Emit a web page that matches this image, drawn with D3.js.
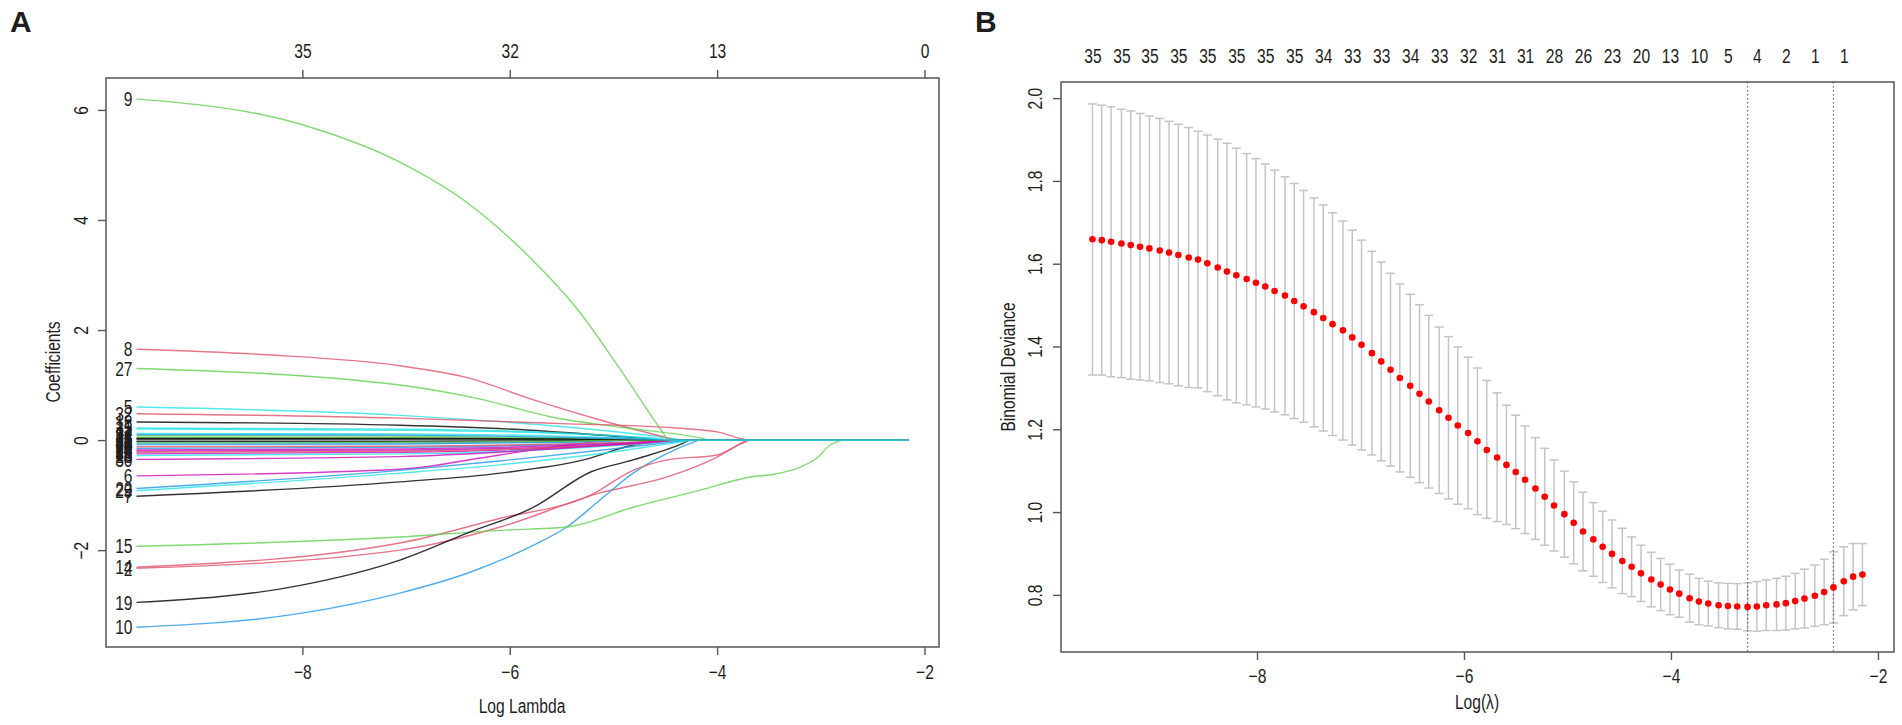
<!DOCTYPE html>
<html>
<head>
<meta charset="utf-8">
<script src="https://cdn.jsdelivr.net/npm/d3@7"></script>
<style>
body { margin: 0; background: #fff; }
text { font-family: "Liberation Sans", Arial, sans-serif; fill: #1e1e1e; }
</style>
</head>
<body>
<script>
//SVG dimension variables
var w = 1902, h = 725;

//---- panel A data: lasso coefficient paths, [log lambda, coefficient] ----
var coefLabels = ["1","2","3","4","5","6","7","8","9","10","11","12","13","14","15","16","17","18",
    "19","20","21","22","23","24","25","26","27","28","29","30","31","32","33","34","35"];

var coefPaths = [
    [[-9.6,0.02],[-7.0,0.02],[-5.5,0.01],[-4.6,0],[-2.15,0]],
    [[-9.6,-2.33],[-7.06,-2.0],[-6.09,-1.58],[-5.13,-0.96],[-4.48,-0.67],[-4.0,-0.31],[-3.75,-0.04],[-3.7,0],[-2.15,0]],
    [[-9.6,0.05],[-7.0,0.045],[-5.5,0.02],[-4.5,0],[-2.15,0]],
    [[-9.6,-0.15],[-7.0,-0.13],[-5.5,-0.08],[-4.5,-0.02],[-4.3,0],[-2.15,0]],
    [[-9.6,0.6],[-7.06,0.45],[-5.12,0.18],[-4.5,0.05],[-4.3,0],[-2.15,0]],
    [[-9.6,-0.65],[-7.06,-0.53],[-6.1,-0.27],[-5.45,-0.09],[-4.9,0],[-2.15,0]],
    [[-9.6,-1.02],[-7.06,-0.76],[-6.09,-0.6],[-5.29,-0.36],[-4.81,-0.09],[-4.33,0],[-2.15,0]],
    [[-9.6,1.65],[-8.34,1.55],[-7.06,1.35],[-6.4,1.13],[-5.77,0.73],[-5.12,0.36],[-4.5,0.05],[-4.4,0],[-2.15,0]],
    [[-9.6,6.2],[-8,5.73],[-7.06,5.05],[-6.4,4.3],[-5.77,3.25],[-5.34,2.36],[-4.95,1.33],[-4.52,0.13],[-4.47,0],[-2.15,0]],
    [[-9.6,-3.4],[-8.02,-3.15],[-7.06,-2.78],[-6.41,-2.42],[-5.77,-1.91],[-5.45,-1.58],[-5.13,-1.09],[-4.81,-0.6],[-4.48,-0.24],[-4.23,-0.04],[-4.16,0],[-2.15,0]],
    [[-9.6,0.2],[-7.0,0.18],[-5.5,0.12],[-4.6,0.03],[-4.4,0],[-2.15,0]],
    [[-9.6,-0.2],[-7.0,-0.18],[-5.5,-0.12],[-4.6,-0.04],[-4.4,0],[-2.15,0]],
    [[-9.6,0.33],[-7.06,0.27],[-5.8,0.18],[-4.9,0.06],[-4.45,0],[-2.15,0]],
    [[-9.6,-2.31],[-7.06,-1.87],[-6.09,-1.42],[-5.22,-1.0],[-4.81,-0.55],[-4.48,-0.36],[-4.0,-0.27],[-3.75,-0.05],[-3.68,0],[-2.15,0]],
    [[-9.6,-1.93],[-7.06,-1.76],[-6.09,-1.64],[-5.45,-1.58],[-4.81,-1.22],[-4.16,-0.91],[-3.68,-0.67],[-3.45,-0.62],[-3.2,-0.49],[-3.04,-0.33],[-2.9,-0.08],[-2.75,0],[-2.15,0]],
    [[-9.6,-0.05],[-7.0,-0.05],[-5.5,-0.03],[-4.7,0],[-2.15,0]],
    [[-9.6,0.12],[-7.0,0.11],[-5.5,0.07],[-4.6,0.01],[-4.5,0],[-2.15,0]],
    [[-9.6,-0.25],[-7.0,-0.22],[-5.5,-0.14],[-4.6,-0.04],[-4.3,0],[-2.15,0]],
    [[-9.6,-2.95],[-8.02,-2.64],[-7.06,-2.18],[-6.41,-1.69],[-5.77,-1.22],[-5.22,-0.58],[-4.81,-0.36],[-4.33,-0.06],[-4.26,0],[-2.15,0]],
    [[-9.6,-0.12],[-7.0,-0.11],[-5.5,-0.07],[-4.6,-0.02],[-4.4,0],[-2.15,0]],
    [[-9.6,0.08],[-7.0,0.07],[-5.5,0.04],[-4.6,0],[-2.15,0]],
    [[-9.6,-0.88],[-7.06,-0.55],[-6.1,-0.38],[-5.1,-0.18],[-4.4,-0.03],[-4.25,0],[-2.15,0]],
    [[-9.6,-0.28],[-7.0,-0.25],[-5.5,-0.16],[-4.6,-0.05],[-4.3,0],[-2.15,0]],
    [[-9.6,-0.18],[-7.0,-0.16],[-5.5,-0.1],[-4.6,-0.03],[-4.4,0],[-2.15,0]],
    [[-9.6,0.03],[-7.0,0.03],[-5.5,0.02],[-4.5,0],[-2.15,0]],
    [[-9.6,-0.22],[-7.0,-0.2],[-5.5,-0.13],[-4.6,-0.04],[-4.35,0],[-2.15,0]],
    [[-9.6,1.3],[-7.06,1.0],[-6.25,0.73],[-5.6,0.42],[-4.96,0.24],[-4.16,0.04],[-4.06,0],[-2.15,0]],
    [[-9.6,-0.08],[-7.0,-0.07],[-5.5,-0.04],[-4.6,0],[-2.15,0]],
    [[-9.6,-0.92],[-7.06,-0.6],[-6.1,-0.45],[-5.1,-0.24],[-4.4,-0.05],[-4.2,0],[-2.15,0]],
    [[-9.6,-0.35],[-7.06,-0.3],[-5.5,-0.15],[-4.6,-0.03],[-4.4,0],[-2.15,0]],
    [[-9.6,-0.02],[-7.0,-0.02],[-5.5,-0.01],[-4.6,0],[-2.15,0]],
    [[-9.6,0.48],[-7.06,0.4],[-5.5,0.3],[-4.4,0.22],[-4.0,0.15],[-3.68,0],[-2.15,0]],
    [[-9.6,-0.05],[-7.0,-0.04],[-5.5,-0.02],[-4.8,0],[-2.15,0]],
    [[-9.6,0.1],[-7.0,0.09],[-5.5,0.05],[-4.6,0.01],[-4.5,0],[-2.15,0]],
    [[-9.6,0.22],[-7.0,0.2],[-5.5,0.13],[-4.6,0.03],[-4.4,0],[-2.15,0]]
];

var topTicksA = [-8, -6, -4, -2];
var topLabelsA = ["35", "32", "13", "0"];

//R default palette, matplot cycles through the first six
var rPalette = ["#000000", "#DF536B", "#61D04F", "#2297E6", "#28E2E5", "#CD0BBC"];

//---- panel B data: cross-validation curve ----
var logLambda = [-9.59,-9.50,-9.41,-9.31,-9.22,-9.13,-9.04,-8.94,-8.85,-8.76,
    -8.66,-8.57,-8.48,-8.38,-8.29,-8.20,-8.10,-8.01,-7.92,-7.83,
    -7.73,-7.64,-7.55,-7.45,-7.36,-7.27,-7.17,-7.08,-6.99,-6.89,
    -6.80,-6.71,-6.62,-6.52,-6.43,-6.34,-6.24,-6.15,-6.06,-5.96,
    -5.87,-5.78,-5.68,-5.59,-5.50,-5.41,-5.31,-5.22,-5.13,-5.03,
    -4.94,-4.85,-4.75,-4.66,-4.57,-4.47,-4.38,-4.29,-4.19,-4.10,
    -4.01,-3.92,-3.82,-3.73,-3.64,-3.54,-3.45,-3.36,-3.26,-3.17,
    -3.08,-2.98,-2.89,-2.80,-2.71,-2.61,-2.52,-2.43,-2.33,-2.24,-2.15];

var cvMean = [1.659,1.657,1.653,1.649,1.645,1.641,1.637,1.632,1.627,1.621,
    1.615,1.610,1.601,1.591,1.581,1.572,1.563,1.554,1.545,1.534,
    1.523,1.510,1.497,1.483,1.469,1.454,1.439,1.422,1.404,1.384,
    1.364,1.344,1.324,1.305,1.286,1.267,1.246,1.228,1.209,1.191,
    1.171,1.150,1.132,1.114,1.097,1.078,1.057,1.037,1.016,0.995,
    0.974,0.953,0.934,0.916,0.899,0.882,0.868,0.852,0.837,0.825,
    0.813,0.803,0.792,0.784,0.779,0.775,0.773,0.772,0.771,0.772,
    0.775,0.777,0.780,0.785,0.791,0.798,0.807,0.818,0.833,0.844,0.849];

var cvUpper = [1.986,1.983,1.979,1.973,1.969,1.963,1.957,1.951,1.944,1.937,
    1.929,1.920,1.911,1.901,1.891,1.879,1.866,1.854,1.841,1.826,
    1.810,1.794,1.777,1.759,1.742,1.723,1.703,1.681,1.657,1.630,
    1.604,1.577,1.551,1.526,1.501,1.475,1.447,1.424,1.399,1.374,
    1.348,1.318,1.288,1.258,1.234,1.208,1.180,1.154,1.126,1.099,
    1.073,1.048,1.023,1.002,0.981,0.961,0.940,0.920,0.903,0.888,
    0.874,0.860,0.850,0.840,0.833,0.829,0.828,0.827,0.829,0.832,
    0.836,0.840,0.845,0.852,0.862,0.872,0.886,0.904,0.916,0.924,0.924];

var cvLower = [1.331,1.331,1.327,1.325,1.321,1.319,1.317,1.313,1.310,1.305,
    1.301,1.300,1.291,1.281,1.271,1.264,1.259,1.254,1.249,1.242,
    1.235,1.226,1.217,1.206,1.196,1.185,1.174,1.162,1.150,1.138,
    1.124,1.111,1.097,1.084,1.071,1.058,1.045,1.032,1.019,1.008,
    0.994,0.985,0.977,0.970,0.960,0.948,0.934,0.920,0.906,0.891,
    0.875,0.858,0.845,0.830,0.817,0.803,0.796,0.784,0.771,0.762,
    0.752,0.746,0.734,0.728,0.725,0.721,0.718,0.717,0.713,0.712,
    0.714,0.714,0.715,0.718,0.720,0.724,0.728,0.732,0.750,0.764,0.774];

//number of nonzero coefficients, printed above every third lambda
var dfLabels = [35,35,35,35,35,35,35,35,34,33,33,34,33,32,31,31,28,26,23,20,13,10,5,4,2,1,1];

var lambdaMin = -3.26, lambda1se = -2.43;

var fontSize = 20;
var squeeze = 0.78; //the figure uses a condensed face, so narrow the glyphs

var container = d3.select("body")
    .append("svg")
    .attr("width", w)
    .attr("height", h);

//========== panel A ==========
var xA = d3.scaleLinear()
    .domain([-9.894, -1.86])
    .range([106, 939]);

var yA = d3.scaleLinear()
    .domain([-3.76, 6.58])
    .range([647, 78]);

//styles every axis the R way: grey lines, condensed labels, no domain line
function styleAxis(g){
    g.select(".domain").remove();
    g.selectAll("line").attr("stroke", "#555").attr("stroke-width", 1.4);
    g.selectAll("text")
        .classed("cond", true)
        .attr("font-size", fontSize)
        .attr("font-family", null)
        .attr("fill", "#1e1e1e");
}

var pathLine = d3.line()
    .x(function(d){ return xA(d[0]); })
    .y(function(d){ return yA(d[1]); })
    .curve(d3.curveMonotoneX);

container.append("g")
    .selectAll("path")
    .data(coefPaths)
    .enter()
    .append("path")
    .attr("d", pathLine)
    .attr("fill", "none")
    .attr("stroke", function(d, i){ return rPalette[i % 6]; })
    .attr("stroke-opacity", 0.8)
    .attr("stroke-width", 1.4);

//variable numbers at the left end of each path
container.append("g")
    .selectAll("text")
    .data(coefPaths)
    .enter()
    .append("text")
    .attr("class", "cond")
    .attr("x", function(d){ return xA(d[0][0]) - 4; })
    .attr("y", function(d){ return yA(d[0][1]); })
    .attr("dy", "0.36em")
    .attr("text-anchor", "end")
    .attr("font-size", fontSize)
    .text(function(d, i){ return coefLabels[i]; });

var axisBottomA = container.append("g")
    .attr("transform", "translate(0,647)")
    .call(d3.axisBottom(xA).tickValues([-8, -6, -4, -2]).tickSize(8).tickSizeOuter(0));
styleAxis(axisBottomA);
axisBottomA.selectAll("text").attr("y", 32).attr("dy", null);

var axisTopA = container.append("g")
    .attr("transform", "translate(0,78)")
    .call(d3.axisTop(xA).tickValues(topTicksA).tickSize(8).tickSizeOuter(0)
        .tickFormat(function(d, i){ return topLabelsA[i]; }));
styleAxis(axisTopA);
axisTopA.selectAll("text").attr("y", -20).attr("dy", null);

var axisLeftA = container.append("g")
    .attr("transform", "translate(106,0)")
    .call(d3.axisLeft(yA).tickValues([-2, 0, 2, 4, 6]).tickSize(8).tickSizeOuter(0));
styleAxis(axisLeftA);
axisLeftA.selectAll("text")
    .attr("transform", "rotate(-90)")
    .attr("text-anchor", "middle")
    .attr("x", 0)
    .attr("y", -18)
    .attr("dy", null);

//plot frame
container.append("rect")
    .attr("x", 106)
    .attr("y", 78)
    .attr("width", 939 - 106)
    .attr("height", 647 - 78)
    .attr("fill", "none")
    .attr("stroke", "#555")
    .attr("stroke-width", 1.5);

container.append("text")
    .attr("class", "cond")
    .attr("x", 522)
    .attr("y", 713)
    .attr("text-anchor", "middle")
    .attr("font-size", fontSize)
    .text("Log Lambda");

container.append("text")
    .attr("class", "cond")
    .attr("transform", "translate(60,362) rotate(-90)")
    .attr("text-anchor", "middle")
    .attr("font-size", fontSize)
    .text("Coefficients");

container.append("text")
    .attr("x", 10)
    .attr("y", 32)
    .attr("font-weight", "bold")
    .attr("font-size", 30)
    .attr("fill", "#000")
    .text("A");

//========== panel B ==========
var xB = d3.scaleLinear()
    .domain([-9.894, -1.845])
    .range([1061, 1894]);

var yB = d3.scaleLinear()
    .domain([0.662, 2.039])
    .range([652, 82]);

var capHalf = 4.5;

//error bars: vertical segment plus caps
var bars = container.append("g")
    .selectAll("g")
    .data(logLambda)
    .enter()
    .append("g")
    .attr("stroke", "#c4c4c4")
    .attr("stroke-width", 1.5);

bars.append("line")
    .attr("x1", function(d){ return xB(d); })
    .attr("x2", function(d){ return xB(d); })
    .attr("y1", function(d, i){ return yB(cvUpper[i]); })
    .attr("y2", function(d, i){ return yB(cvLower[i]); });

bars.append("line")
    .attr("x1", function(d){ return xB(d) - capHalf; })
    .attr("x2", function(d){ return xB(d) + capHalf; })
    .attr("y1", function(d, i){ return yB(cvUpper[i]); })
    .attr("y2", function(d, i){ return yB(cvUpper[i]); });

bars.append("line")
    .attr("x1", function(d){ return xB(d) - capHalf; })
    .attr("x2", function(d){ return xB(d) + capHalf; })
    .attr("y1", function(d, i){ return yB(cvLower[i]); })
    .attr("y2", function(d, i){ return yB(cvLower[i]); });

//dotted lines at lambda.min and lambda.1se
container.append("g")
    .selectAll("line")
    .data([lambdaMin, lambda1se])
    .enter()
    .append("line")
    .attr("x1", function(d){ return xB(d); })
    .attr("x2", function(d){ return xB(d); })
    .attr("y1", 82)
    .attr("y2", 652)
    .attr("stroke", "#666")
    .attr("stroke-width", 1.2)
    .attr("stroke-dasharray", "1.5,2.5");

//mean deviance points
container.append("g")
    .selectAll("circle")
    .data(logLambda)
    .enter()
    .append("circle")
    .attr("cx", function(d){ return xB(d); })
    .attr("cy", function(d, i){ return yB(cvMean[i]); })
    .attr("r", 3.3)
    .attr("fill", "#ff0000");

var axisBottomB = container.append("g")
    .attr("transform", "translate(0,652)")
    .call(d3.axisBottom(xB).tickValues([-8, -6, -4, -2]).tickSize(8).tickSizeOuter(0));
styleAxis(axisBottomB);
axisBottomB.selectAll("text").attr("y", 31).attr("dy", null);

//df labels over every third lambda, no tick marks
var labelledLambda = logLambda.filter(function(d, i){ return i % 3 === 0; });
var axisTopB = container.append("g")
    .attr("transform", "translate(0,82)")
    .call(d3.axisTop(xB).tickValues(labelledLambda).tickSize(0).tickSizeOuter(0)
        .tickFormat(function(d, i){ return dfLabels[i]; }));
styleAxis(axisTopB);
axisTopB.selectAll("text").attr("y", -19).attr("dy", null);

var axisLeftB = container.append("g")
    .attr("transform", "translate(1061,0)")
    .call(d3.axisLeft(yB).tickValues([0.8, 1.0, 1.2, 1.4, 1.6, 1.8, 2.0]).tickSize(8).tickSizeOuter(0)
        .tickFormat(d3.format(".1f")));
styleAxis(axisLeftB);
axisLeftB.selectAll("text")
    .attr("transform", "rotate(-90)")
    .attr("text-anchor", "middle")
    .attr("x", 0)
    .attr("y", -19)
    .attr("dy", null);

container.append("rect")
    .attr("x", 1061)
    .attr("y", 82)
    .attr("width", 1894 - 1061)
    .attr("height", 652 - 82)
    .attr("fill", "none")
    .attr("stroke", "#555")
    .attr("stroke-width", 1.5);

container.append("text")
    .attr("class", "cond")
    .attr("x", 1477)
    .attr("y", 709)
    .attr("text-anchor", "middle")
    .attr("font-size", fontSize)
    .text("Log(\u03bb)");

container.append("text")
    .attr("class", "cond")
    .attr("transform", "translate(1015,367) rotate(-90)")
    .attr("text-anchor", "middle")
    .attr("font-size", fontSize)
    .text("Binomial Deviance");

container.append("text")
    .attr("x", 975)
    .attr("y", 32)
    .attr("font-weight", "bold")
    .attr("font-size", 30)
    .attr("fill", "#000")
    .text("B");

//narrow every plot text to mimic the condensed face
container.selectAll("text.cond").each(function(){
    var len = this.getComputedTextLength();
    d3.select(this)
        .attr("textLength", len * squeeze)
        .attr("lengthAdjust", "spacingAndGlyphs");
});
</script>
</body>
</html>
